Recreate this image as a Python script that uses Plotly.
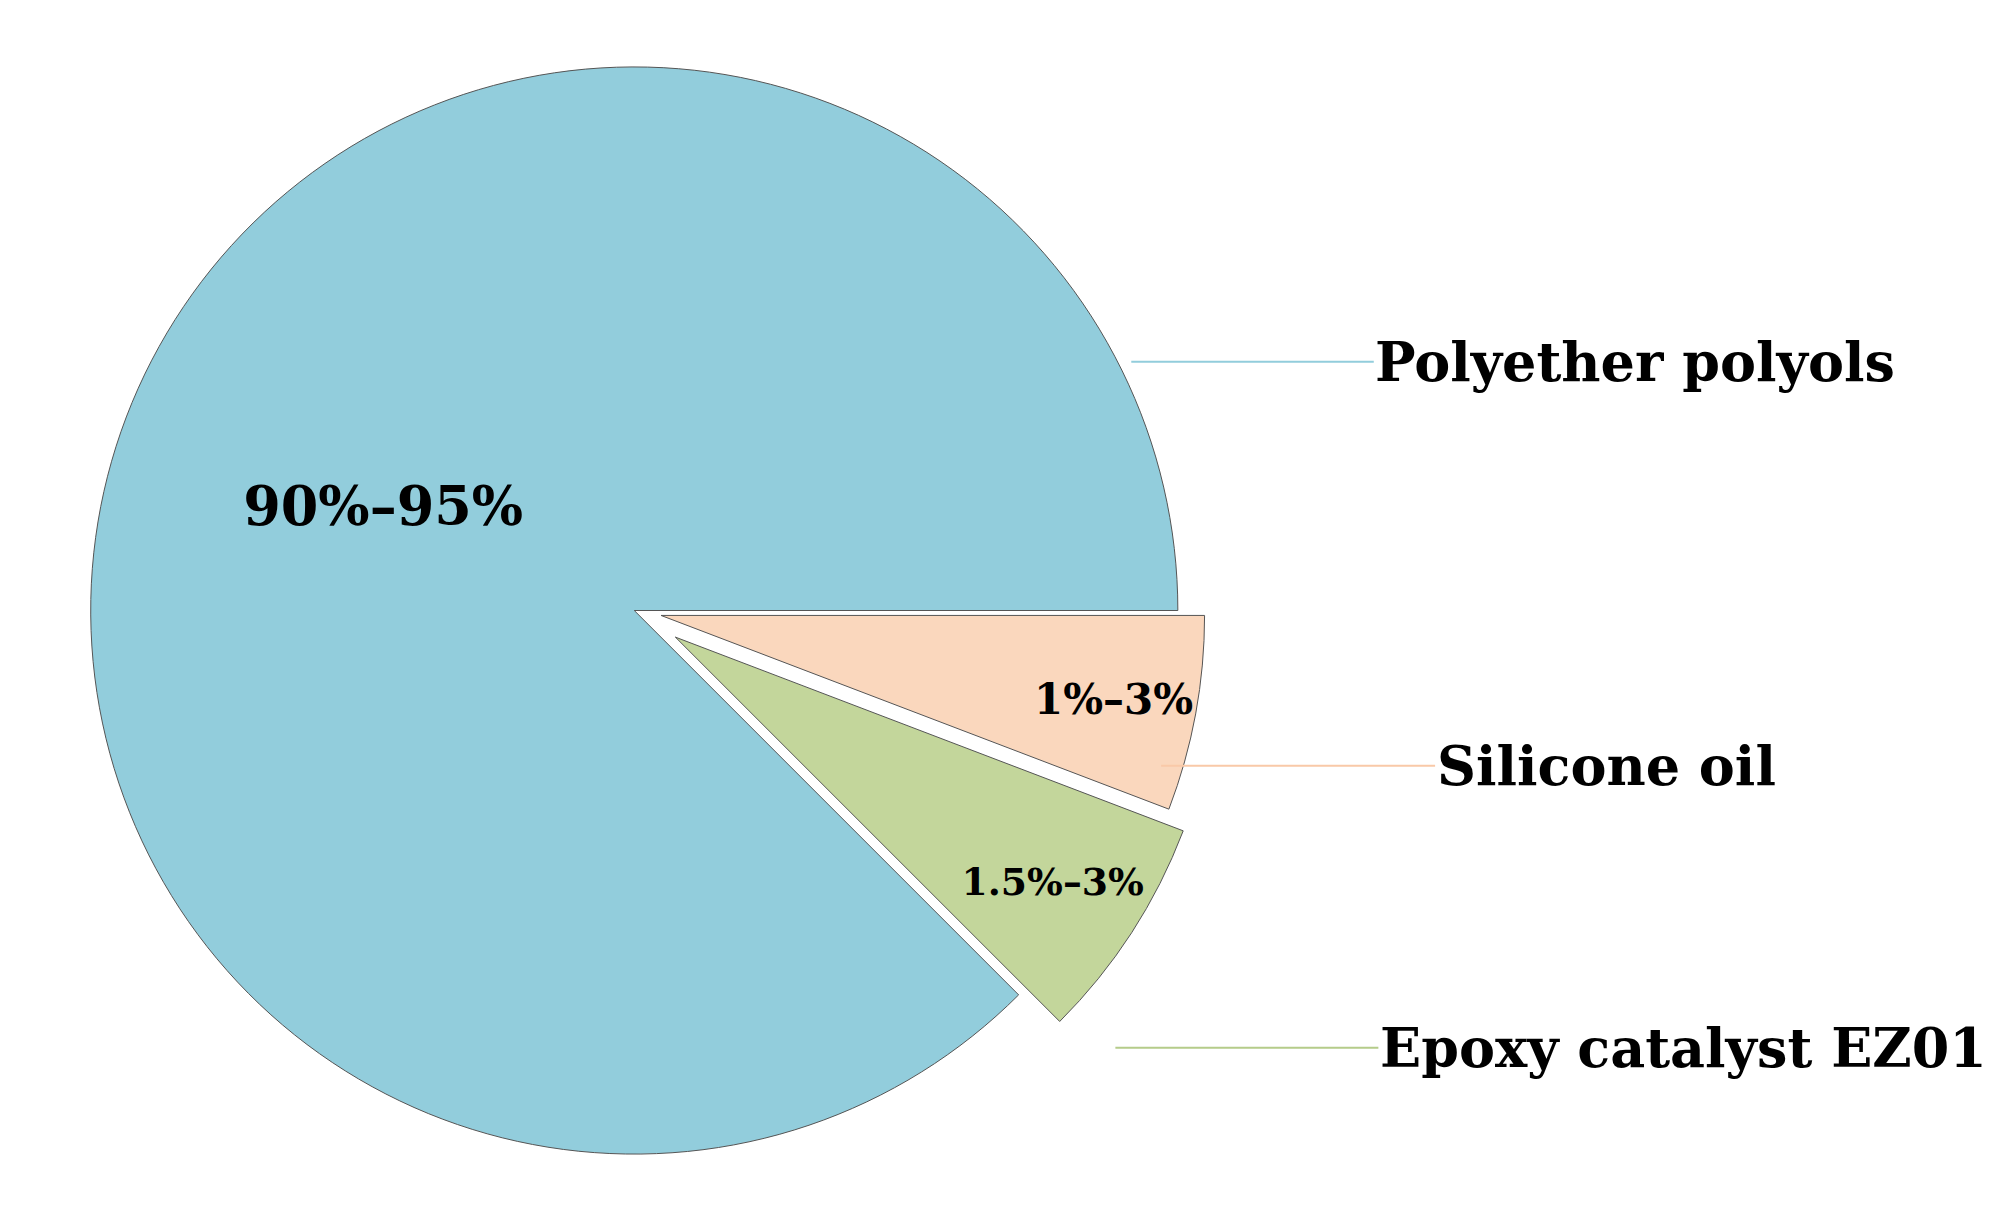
import plotly.graph_objects as go

# components, ordered clockwise from 3 o'clock
labels = ["Silicone oil", "Epoxy catalyst EZ01", "Polyether polyols"]
values = [5.8, 6.7, 87.5]
ranges = ["1%–3%", "1.5%–3%", "90%–95%"]
colors = ["#FAD7BD", "#C3D69B", "#92CDDC"]
line_colors = ["#F9C9A8", "#B5CC8A", "#92CDDC"]

font_family = "DejaVu Serif"

fig = go.Figure(go.Pie(
    labels=labels, values=values, text=["<b>%s</b>" % r for r in ranges],
    textinfo="text", textposition="inside", insidetextorientation="horizontal",
    textfont=dict(family=font_family, size=54, color="black"),
    marker=dict(colors=colors, line=dict(color="#555555", width=1)),
    pull=[0.05, 0.09, 0], sort=False, direction="clockwise", rotation=90,
    domain=dict(x=[0.0, 0.62], y=[0.0, 1.0]), showlegend=False,
))

# label callouts: (tip x, tip y, text offset x)
callouts = [(0.575, 0.369, 445), (0.552, 0.131, 568), (0.56, 0.71, 504)]
for lab, lc, (x, y, ax) in zip(labels, line_colors, callouts):
    fig.add_annotation(x=x, y=y, xref="paper", yref="paper", text="<b>%s</b>" % lab,
                       showarrow=True, arrowhead=0, arrowwidth=2, arrowcolor=lc,
                       ax=ax, ay=0, standoff=0,
                       font=dict(family=font_family, size=54, color="black"))

fig.update_layout(width=2008, height=1205, margin=dict(t=10, l=10, r=10, b=10),
                  paper_bgcolor="white", plot_bgcolor="white",
                  font=dict(family=font_family))
fig.write_html("out.html")
